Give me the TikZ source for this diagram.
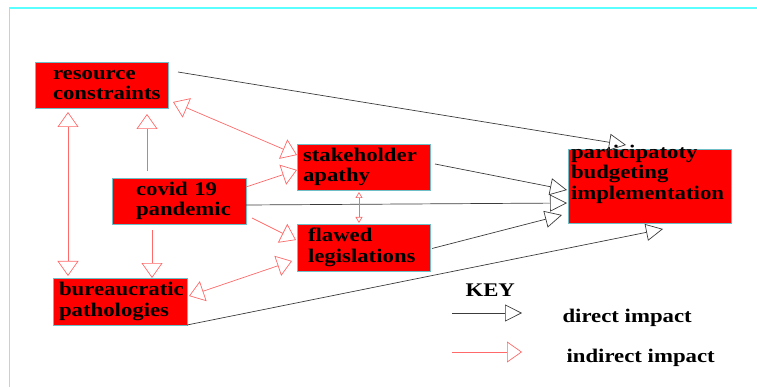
\documentclass[tikz,border=0pt]{standalone}
\usepackage{fontspec}
\usetikzlibrary{arrows.meta,calc,positioning}
\newfontfamily\factorfont{Liberation Serif}[FakeStretch=1.18]
\definecolor{boxred}{RGB}{255,0,0}
\definecolor{boxedge}{RGB}{110,190,200}
\definecolor{framecyan}{RGB}{90,255,255}
\definecolor{directgray}{RGB}{60,60,60}
\definecolor{indirectred}{RGB}{255,105,105}
\tikzset{
  pb schemes/.style = {
    x = 1pt, y = -1pt,
    % Factor boxes
    factor/.style = {
      draw = boxedge, fill = boxred, line width = 0.8pt,
      anchor = north west, inner sep = 0pt, outer sep = 0pt,
      align = left,
      font = \factorfont\bfseries\fontsize{19.3}{20.5}\selectfont
    },
    key text/.style = {anchor = base west,
      font = \factorfont\bfseries\fontsize{19.3}{20.5}\selectfont},
    % Lines, arrows
    direct/.style    = {draw = directgray, line width = 0.7pt,
                        -{Triangle[open, length=17pt, width=17pt]}},
    indirect/.style  = {draw = indirectred, line width = 0.7pt,
                        -{Triangle[open, length=15pt, width=21pt]}},
    indirect both/.style = {indirect,
                        {Triangle[open, length=15pt, width=21pt]}-{Triangle[open, length=15pt, width=21pt]}},
    indirect small/.style = {draw = indirectred, line width = 0.7pt,
                        {Triangle[open, length=6pt, width=7pt]}-{Triangle[open, length=6pt, width=7pt]}},
  }
}
\begin{document}
\begin{tikzpicture}[pb schemes]
  \useasboundingbox (0,0) rectangle (757,387);
  \draw[framecyan, line width=1.2pt] (9.5,387) -- (9.5,8) -- (757,8);

  \node [factor, minimum width=133pt, minimum height=46pt, text width=97pt]
    (rc) at (35,62) {resource\\constraints};
  \node [factor, minimum width=133pt, minimum height=46pt, text width=121pt]
    (sa) at (297,144) {stakeholder\\apathy};
  \node [factor, minimum width=134pt, minimum height=46pt, text width=86pt]
    (cv) at (112,178) {covid 19\\pandemic};
  \node [factor, minimum width=133pt, minimum height=47pt, text width=111pt]
    (fl) at (297,224) {flawed\\legislations};
  \node [factor, minimum width=134pt, minimum height=47pt, text width=122pt]
    (bp) at (53,278) {bureaucratic\\pathologies};
  \node [factor, minimum width=163pt, minimum height=74pt]
    (pb) at (568,149) {\parbox[c][74pt][t]{157pt}{\vspace*{-4pt}%
      participatoty\\budgeting\\implementation}};

  % direct impact
  \draw[direct] ($(rc.north east)+(10,10)$) -- ($(pb.north west)+(58,-4)$);
  \draw[direct] ($(sa.north east)+(5,20)$)  -- ($(pb.west)+(-1,4)$);
  \draw[direct] ($(cv.east)+(0,4)$)         -- ($(pb.west)+(-1,17)$);
  \draw[direct] ($(fl.east)+(2,1)$)         -- ($(pb.south west)+(-6,-8)$);
  \draw[direct] (bp.south east)             -- ($(pb.south west)+(95,6)$);

  % indirect impact
  \draw[indirect] ($(cv.north west)+(35,-7)$) -- ($(rc.south east)+(-21,6)$);
  \draw[indirect] ($(cv.south west)+(40,6)$)  -- ($(bp.north east)+(-35,0)$);
  \draw[indirect] ($(cv.north east)+(0,9)$)   -- ($(sa.west)+(0,3)$);
  \draw[indirect] ($(cv.south east)+(6,-6)$)  -- ($(fl.west)+(-1,-7.5)$);
  \draw[indirect both] ($(rc.south west)+(33,4)$) -- ($(bp.north west)+(15,-2)$);
  \draw[indirect both] ($(rc.south east)+(5,-6)$) -- ($(sa.west)+(0,-12)$);
  \draw[indirect both] ($(bp.east)+(2,-5.5)$)     -- ($(fl.south west)+(-5,-10)$);
  \draw[indirect small] ($(sa.south west)+(62,2)$) -- ($(fl.north west)+(62,-1)$);

  % key
  \node [key text] (key) at (462,296) {KEY};
  \coordinate (direct from)   at (452,313);
  \coordinate (direct to)     at (522,313);
  \coordinate (indirect from) at (452,352);
  \coordinate (indirect to)   at (522,352);
  \draw[direct]   (direct from)   -- (direct to);
  \draw[indirect] (indirect from) -- (indirect to);
  \node [key text] (direct label)   at (559,322) {direct impact};
  \node [key text] (indirect label) at (563,362) {indirect impact};
\end{tikzpicture}
\end{document}
